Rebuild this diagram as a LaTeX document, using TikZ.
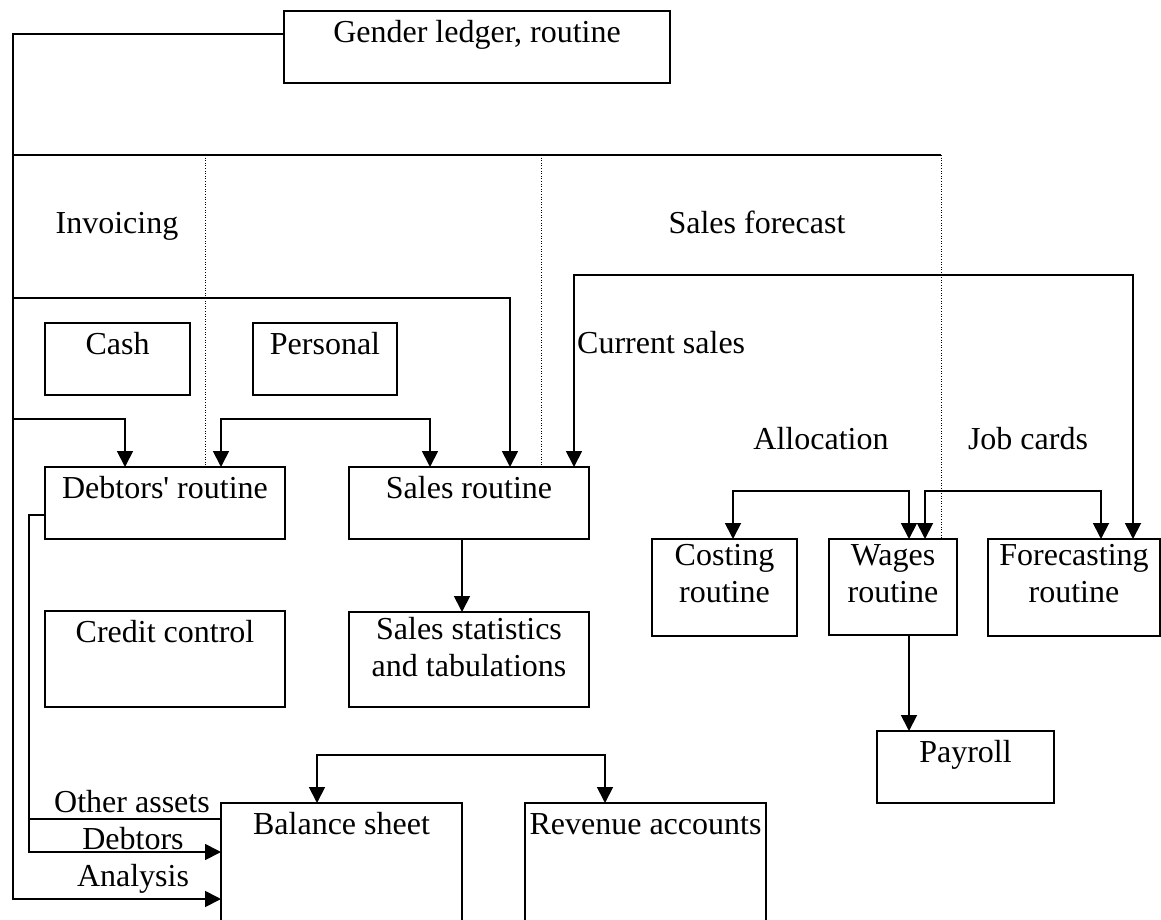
\documentclass[tikz,border=0pt]{standalone}
\usepackage{fontspec}
\setmainfont{Liberation Serif}
\usetikzlibrary{arrows.meta}

\tikzset{
  conn/.style={line width=1.8pt, line join=miter},
  dotline/.style={line width=1pt, dash pattern=on 1pt off 1.6pt},
  oneway/.style={conn, -{Triangle[width=16pt,length=16pt]}},
  twoway/.style={conn, {Triangle[width=16pt,length=16pt]}-{Triangle[width=16pt,length=16pt]}},
  txtfont/.style={font=\fontsize{32}{37}\selectfont},
  boxtext/.style={txtfont, anchor=north, yshift=-5pt, inner sep=0pt, align=center,
                  execute at begin node=\strut},
  freetext/.style={txtfont, inner sep=0pt, anchor=base},
  box/.style={draw, line width=1.8pt, rectangle, inner sep=0pt, outer sep=0pt,
              anchor=north west},
}

\begin{document}
\begin{tikzpicture}[x=1pt, y=-1pt]
\useasboundingbox (0,0) rectangle (1161,920);

% ---- boxes (top-left corner, width, height) ----
\node[box, minimum width=386pt, minimum height=72pt,
      label={[boxtext]north:Gender ledger, routine}] (gl) at (284,11) {};
\node[box, minimum width=145pt, minimum height=72pt,
      label={[boxtext]north:Cash}] (cash) at (45,323) {};
\node[box, minimum width=144pt, minimum height=72pt,
      label={[boxtext]north:Personal}] (pers) at (253,323) {};
\node[box, minimum width=240pt, minimum height=72pt,
      label={[boxtext]north:Debtors\textquotesingle{} routine}] (dr) at (45,467) {};
\node[box, minimum width=240pt, minimum height=72pt,
      label={[boxtext]north:Sales routine}] (sr) at (349,467) {};
\node[box, minimum width=240pt, minimum height=96pt,
      label={[boxtext]north:Credit control}] (cc) at (45,611) {};
\node[box, minimum width=240pt, minimum height=95pt,
      label={[boxtext]north:Sales statistics\\and tabulations}] (st) at (349,612) {};
\node[box, minimum width=145pt, minimum height=97pt,
      label={[boxtext]north:Costing\\routine}] (cs) at (652,539) {};
\node[box, minimum width=128pt, minimum height=96pt,
      label={[boxtext]north:Wages\\routine}] (wg) at (829,539) {};
\node[box, minimum width=172pt, minimum height=97pt,
      label={[boxtext]north:Forecasting\\routine}] (fc) at (988,539) {};
\node[box, minimum width=177pt, minimum height=72pt,
      label={[boxtext]north:Payroll}] (pr) at (877,731) {};
\node[box, minimum width=241pt, minimum height=150pt,
      label={[boxtext]north:Balance sheet}] (bs) at (221,803) {};
\node[box, minimum width=241pt, minimum height=150pt,
      label={[boxtext]north:Revenue accounts}] (rv) at (525,803) {};

% ---- free labels ----
\node[freetext] (tinv) at (117,233.5) {Invoicing};
\node[freetext] (tsf)  at (757,233.5) {Sales forecast};
\node[freetext, anchor=base west] (tcs) at (577,353.5) {Current sales};
\node[freetext] (tal)  at (821,449.5) {Allocation};
\node[freetext] (tjc)  at (1028,449.5) {Job cards};
\node[freetext] (toa)  at (132,812.5) {Other assets};
\node[freetext] (tdb)  at (133,849.5) {Debtors};
\node[freetext] (tan)  at (133,886.5) {Analysis};

% ---- routing points ----
\coordinate (trunk)  at (13,899);
\coordinate (bar)    at (941,155);
\coordinate (inv)    at (13,298);
\coordinate (invR)   at (510,298);
\coordinate (fcL)    at (574,275);
\coordinate (fcR)    at (1133,275);
\coordinate (cashL)  at (13,419);
\coordinate (cashR)  at (125,419);
\coordinate (perL)   at (221,419);
\coordinate (perR)   at (430,419);
\coordinate (dside)  at (29,852);
\coordinate (oa)     at (29,819);
\coordinate (alL)    at (733,491);
\coordinate (alR)    at (909,491);
\coordinate (jcL)    at (925,491);
\coordinate (jcR)    at (1101,491);
\coordinate (brL)    at (317,755);
\coordinate (brR)    at (605,755);
\coordinate (dv1)    at (205,155);
\coordinate (dv2)    at (541,155);
\coordinate (sdown)  at (462,0);

% ---- solid connectors ----
\draw[oneway] ([yshift=-23pt]gl.north west) -| (trunk) -- (trunk -| bs.west);
\draw[conn] (13,155) -- (bar);
\draw[oneway] (inv) -- (invR) -- (invR |- sr.north);
\draw[twoway] (fcL |- sr.north) -- (fcL) -- (fcR) -- (fcR |- fc.north);
\draw[oneway] (cashL) -- (cashR) -- (cashR |- dr.north);
\draw[twoway] (perL |- dr.north) -- (perL) -- (perR) -- (perR |- sr.north);
\draw[oneway] (sdown |- sr.south) -- (sdown |- st.north);
\draw[oneway] ([yshift=-48pt]dr.north west) -| (dside) -- (dside -| bs.west);
\draw[conn] (oa) -- (oa -| bs.west);
\draw[twoway] (alL |- cs.north) -- (alL) -- (alR) -- (alR |- wg.north);
\draw[twoway] (jcL |- wg.north) -- (jcL) -- (jcR) -- (jcR |- fc.north);
\draw[oneway] (alR |- wg.south) -- (alR |- pr.north);
\draw[twoway] (brL |- bs.north) -- (brL) -- (brR) -- (brR |- rv.north);

% ---- dotted dividers ----
\draw[dotline] (dv1) -- (dv1 |- dr.north);
\draw[dotline] (dv2) -- (dv2 |- sr.north);
\draw[dotline] (bar) -- (bar |- wg.north);
\end{tikzpicture}
\end{document}
